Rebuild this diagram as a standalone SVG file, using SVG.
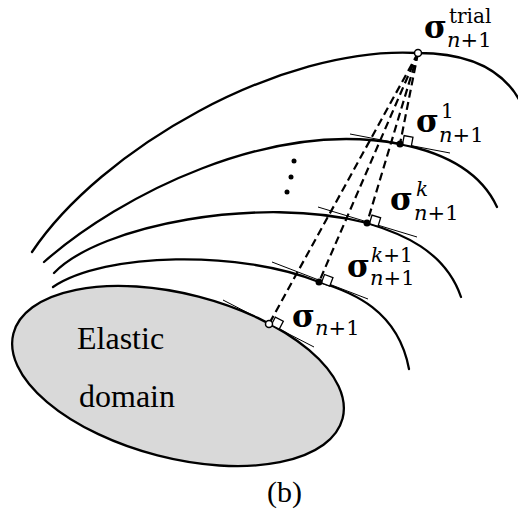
<svg xmlns="http://www.w3.org/2000/svg" width="518" height="515" viewBox="0 0 518 515">
<style>
.curve{fill:none;stroke:#000;stroke-width:2.3;stroke-linecap:round}
.tan{fill:none;stroke:#000;stroke-width:1}
.dash{fill:none;stroke:#000;stroke-width:2.2;stroke-dasharray:8 4.5}
.sq{fill:#fff;stroke:#000;stroke-width:1.3}
.dot{fill:#000}
.open{fill:#fff;stroke:#000;stroke-width:1.5}
.sig{font-family:"DejaVu Serif",serif;font-weight:bold;font-size:31px}
.sub{font-family:"DejaVu Serif",serif;font-size:21px}
.sup{font-family:"DejaVu Serif",serif;font-size:20px}
.it{font-style:italic}
.lbl{font-family:"Liberation Serif","Times New Roman",serif;font-size:32px}
</style>
<rect width="518" height="515" fill="#fff"/>
<g id="elastic-domain">
<ellipse cx="178" cy="376" rx="170" ry="82" transform="rotate(14.5 178 376)" fill="#d9d9d9" stroke="#000" stroke-width="2.3"/>
<text class="lbl" x="77" y="349">Elastic</text>
<text class="lbl" x="79" y="407">domain</text>
</g>
<g id="yield-surfaces">
<path id="surface-trial" class="curve" d="M32,252 C100,150 280,45 418,53 C470,53 505,70 522,105"/>
<path id="surface-1" class="curve" d="M44,262 C120,195 270,119 400,144 C440,152 480,170 497,207"/>
<path id="surface-k" class="curve" d="M54,273 C100,225 260,195 367,223 C400,233 445,250 461,297"/>
<path id="surface-k1" class="curve" d="M53,287 C105,252 240,250 319,282 C352,292 398,310 409,369"/>
</g>
<g id="connectors">
<line class="tan" x1="350" y1="134" x2="450" y2="153"/>
<line class="tan" x1="318" y1="207" x2="417" y2="237"/>
<line class="tan" x1="272" y1="262" x2="368" y2="299"/>
<line class="tan" x1="223" y1="300" x2="314" y2="347"/>
<line class="dash" x1="418" y1="53" x2="400" y2="144"/>
<line class="dash" x1="418" y1="53" x2="367" y2="223"/>
<line class="dash" x1="418" y1="53" x2="319" y2="282"/>
<line class="dash" x1="418" y1="53" x2="269" y2="324"/>
<rect class="sq" x="2.5" y="-9" width="9" height="9" transform="translate(400 144) rotate(10.8)"/>
<rect class="sq" x="2.5" y="-9" width="9" height="9" transform="translate(367 223) rotate(16.9)"/>
<rect class="sq" x="2.5" y="-9" width="9" height="9" transform="translate(319 282) rotate(21)"/>
<rect class="sq" x="2.5" y="-9" width="9" height="9" transform="translate(269 324) rotate(27)"/>
</g>
<g id="point-trial">
<circle class="open" cx="418" cy="53" r="3.5"/>
<text class="sig" x="424" y="38">σ</text>
<text class="sup" x="449" y="23">trial</text>
<text class="sub" x="447" y="47"><tspan class="it">n</tspan>+1</text>
</g>
<g id="point-1">
<circle class="dot" cx="400" cy="144" r="3.5"/>
<text class="sig" x="416" y="132">σ</text>
<text class="sup" x="441" y="118">1</text>
<text class="sub" x="439" y="142"><tspan class="it">n</tspan>+1</text>
</g>
<g id="ellipsis">
<circle class="dot" cx="294" cy="161" r="2.5"/>
<circle class="dot" cx="291" cy="177" r="2.5"/>
<circle class="dot" cx="287" cy="192" r="2.5"/>
</g>
<g id="point-k">
<circle class="dot" cx="367" cy="223" r="3.5"/>
<text class="sig" x="390" y="210">σ</text>
<text class="sup it" x="416" y="196">k</text>
<text class="sub" x="414" y="220"><tspan class="it">n</tspan>+1</text>
</g>
<g id="point-k1">
<circle class="dot" cx="319" cy="282" r="3.5"/>
<text class="sig" x="347" y="277">σ</text>
<text class="sup" x="371" y="262"><tspan class="it">k</tspan>+1</text>
<text class="sub" x="370" y="285"><tspan class="it">n</tspan>+1</text>
</g>
<g id="point-final">
<circle class="open" cx="269" cy="324" r="3.5"/>
<text class="sig" x="292" y="327">σ</text>
<text class="sub" x="315" y="335"><tspan class="it">n</tspan>+1</text>
</g>
<text class="lbl" x="267" y="502" style="font-size:30px">(b)</text>
</svg>
